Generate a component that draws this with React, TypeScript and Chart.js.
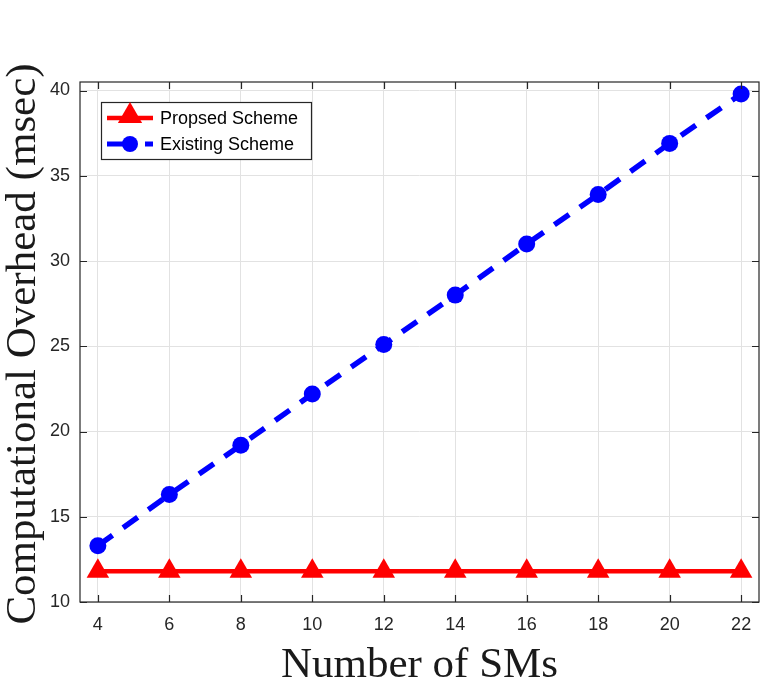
import React, { useEffect, useRef } from "react";
import { Chart, registerables } from "chart.js";

Chart.register(...registerables);

// Number of SMs on the horizontal axis
const smCounts = [4, 6, 8, 10, 12, 14, 16, 18, 20, 22];
// Computational overhead (msec) for each scheme
const proposedMs = [11.8, 11.8, 11.8, 11.8, 11.8, 11.8, 11.8, 11.8, 11.8, 11.8];
const existingMs = [13.3, 16.3, 19.2, 22.2, 25.1, 28.0, 31.0, 33.9, 36.9, 39.8];
// Axis tick values
const xTickValues = [4, 6, 8, 10, 12, 14, 16, 18, 20, 22];
const yTickValues = [10, 15, 20, 25, 30, 35, 40];

const xTitle = "Number of SMs";
const yTitle = "Computational Overhead (msec)";
const proposedLabel = "Propsed Scheme";
const existingLabel = "Existing Scheme";

const W = 761;
const H = 682;
const SANS = '"Liberation Sans", Arial, sans-serif';
const SERIF = '"Liberation Serif", "Times New Roman", serif';
const AXIS_COLOR = "#262626";
const GRID_COLOR = "#e2e2e2";
const RED = "#ff0000";
const BLUE = "#0000ff";

function drawTriangle(ctx: CanvasRenderingContext2D, x: number, y: number, r: number) {
  ctx.beginPath();
  ctx.moveTo(x, y - r);
  ctx.lineTo(x + r * 0.866, y + r * 0.5);
  ctx.lineTo(x - r * 0.866, y + r * 0.5);
  ctx.closePath();
  ctx.fill();
}

const framePlugin = {
  id: "frame",
  afterDatasetsDraw(chart: any) {
    const { ctx, chartArea } = chart;
    const { left, right, top, bottom } = chartArea;
    const xs = chart.scales.x;
    const ys = chart.scales.y;
    ctx.save();
    // plot box
    ctx.strokeStyle = AXIS_COLOR;
    ctx.lineWidth = 1.2;
    ctx.strokeRect(left, top, right - left, bottom - top);
    // inward tick marks on all four sides
    const tl = 7;
    ctx.beginPath();
    for (const v of xTickValues) {
      const px = Math.round(xs.getPixelForValue(v)) + 0.5;
      ctx.moveTo(px, bottom);
      ctx.lineTo(px, bottom - tl);
      ctx.moveTo(px, top);
      ctx.lineTo(px, top + tl);
    }
    for (const v of yTickValues) {
      const py = Math.round(ys.getPixelForValue(v)) + 0.5;
      ctx.moveTo(left, py);
      ctx.lineTo(left + tl, py);
      ctx.moveTo(right, py);
      ctx.lineTo(right - tl, py);
    }
    ctx.stroke();

    // legend
    const lx = 101, ly = 102, lw = 210, lh = 57;
    ctx.fillStyle = "#ffffff";
    ctx.fillRect(lx, ly, lw, lh);
    ctx.strokeStyle = AXIS_COLOR;
    ctx.lineWidth = 1.2;
    ctx.strokeRect(lx + 0.5, ly + 0.5, lw, lh);

    const r1 = 118, r2 = 144;
    // proposed entry
    ctx.strokeStyle = RED;
    ctx.lineWidth = 4.5;
    ctx.beginPath();
    ctx.moveTo(107, r1);
    ctx.lineTo(153, r1);
    ctx.stroke();
    ctx.fillStyle = RED;
    drawTriangle(ctx, 130, r1 - 2, 14);
    // existing entry
    ctx.strokeStyle = BLUE;
    ctx.lineWidth = 5;
    ctx.beginPath();
    ctx.moveTo(107, r2);
    ctx.lineTo(126, r2);
    ctx.moveTo(145, r2);
    ctx.lineTo(153, r2);
    ctx.stroke();
    ctx.fillStyle = BLUE;
    ctx.beginPath();
    ctx.arc(130, r2, 8, 0, Math.PI * 2);
    ctx.fill();

    ctx.fillStyle = "#000000";
    ctx.font = `18px ${SANS}`;
    ctx.textAlign = "left";
    ctx.textBaseline = "middle";
    ctx.fillText(proposedLabel, 160, r1 + 1);
    ctx.fillText(existingLabel, 160, r2 + 1);

    // axis titles
    ctx.fillStyle = "#1a1a1a";
    ctx.font = `43px ${SERIF}`;
    ctx.textAlign = "center";
    ctx.textBaseline = "alphabetic";
    ctx.fillText(xTitle, (left + right) / 2, 677);
    ctx.translate(35, 344);
    ctx.rotate(-Math.PI / 2);
    ctx.fillText(yTitle, 0, 0);
    ctx.restore();
  },
};

export default function App() {
  const canvasRef = useRef<HTMLCanvasElement | null>(null);

  useEffect(() => {
    const canvas = canvasRef.current;
    if (!canvas) return;
    const chart = new Chart(canvas, {
      type: "line",
      data: {
        datasets: [
          {
            label: existingLabel,
            data: smCounts.map((x, i) => ({ x, y: existingMs[i] })),
            borderColor: BLUE,
            backgroundColor: BLUE,
            borderWidth: 5.5,
            borderDash: [18, 13],
            pointStyle: "circle",
            pointRadius: 8.5,
            pointBorderWidth: 0,
            pointBackgroundColor: BLUE,
            tension: 0,
          },
          {
            label: proposedLabel,
            data: smCounts.map((x, i) => ({ x, y: proposedMs[i] })),
            borderColor: RED,
            backgroundColor: RED,
            borderWidth: 4.5,
            pointStyle: "triangle",
            pointRadius: 13,
            pointBorderWidth: 0,
            pointBackgroundColor: RED,
            tension: 0,
          },
        ],
      },
      options: {
        responsive: false,
        animation: false,
        events: [],
        clip: false as any,
        layout: { autoPadding: false, padding: { top: 82, right: 2, left: 0, bottom: 0 } },
        plugins: {
          legend: { display: false },
          tooltip: { enabled: false },
        },
        scales: {
          x: {
            type: "linear",
            min: 3.5,
            max: 22.5,
            afterBuildTicks: (scale: any) => {
              scale.ticks = xTickValues.map((v) => ({ value: v }));
            },
            afterFit: (scale: any) => {
              scale.height = 80;
              scale.paddingLeft = 0;
              scale.paddingRight = 0;
            },
            grid: { color: GRID_COLOR, drawTicks: false, lineWidth: 1 },
            border: { display: false },
            ticks: {
              color: "#262626",
              font: { family: SANS, size: 18 },
              padding: 12,
              maxRotation: 0,
              autoSkip: false,
            },
          },
          y: {
            type: "linear",
            min: 10,
            max: 40.5,
            afterBuildTicks: (scale: any) => {
              scale.ticks = yTickValues.map((v) => ({ value: v }));
            },
            afterFit: (scale: any) => {
              scale.width = 80;
              scale.paddingTop = 0;
              scale.paddingBottom = 0;
            },
            grid: { color: GRID_COLOR, drawTicks: false, lineWidth: 1 },
            border: { display: false },
            ticks: {
              color: "#262626",
              font: { family: SANS, size: 18 },
              padding: 10,
              autoSkip: false,
            },
          },
        },
      },
      plugins: [framePlugin],
    } as any);
    return () => chart.destroy();
  }, []);

  return (
    <div style={{ position: "absolute", left: 0, top: 0, width: W, height: H, background: "#ffffff" }}>
      <canvas ref={canvasRef} width={W} height={H} style={{ display: "block", width: W, height: H }} />
    </div>
  );
}
